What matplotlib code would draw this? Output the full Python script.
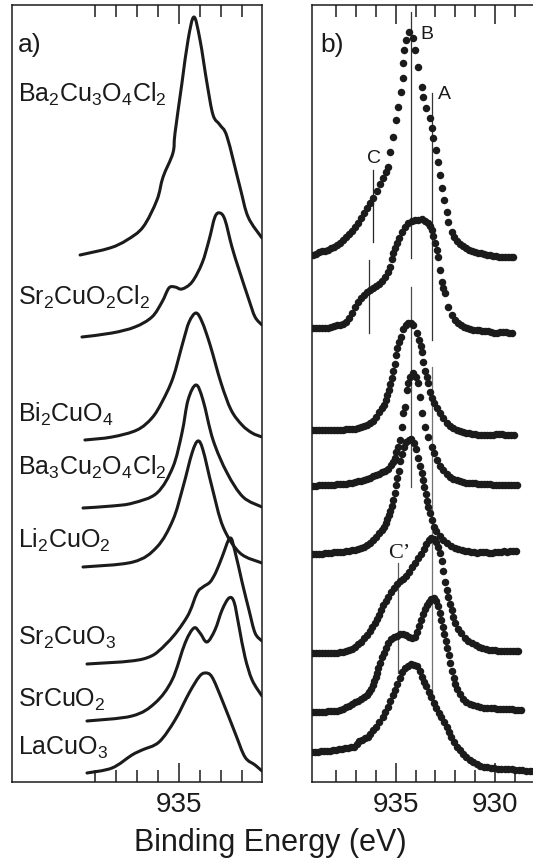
import numpy as np
import matplotlib
matplotlib.use("Agg")
import matplotlib.pyplot as plt
from matplotlib.path import Path
from matplotlib.patches import PathPatch

plt.rcParams['font.family'] = ['Liberation Sans', 'DejaVu Sans']
plt.rcParams['mathtext.fontset'] = 'custom'
plt.rcParams['mathtext.rm'] = 'Liberation Sans'
plt.rcParams['mathtext.default'] = 'rm'

# sample names, top to bottom
compounds = ["Ba$_2$Cu$_3$O$_4$Cl$_2$", "Sr$_2$CuO$_2$Cl$_2$", "Bi$_2$CuO$_4$",
             "Ba$_3$Cu$_2$O$_4$Cl$_2$", "Li$_2$CuO$_2$", "Sr$_2$CuO$_3$",
             "SrCuO$_2$", "LaCuO$_3$"]

# a) calculated spectra: (binding energy eV, intensity) + vertical offsets
offsets_a = [527, 445, 342, 274, 215, 118, 61, 9]
calc_1 = [(939.71, 0), (938.29, 7), (937.48, 15), (936.71, 28), (936.05, 55), (935.76, 78),
          (935.29, 102), (935.19, 122), (934.86, 172), (934.57, 215), (934.29, 238),
          (934.00, 215), (933.67, 172), (933.38, 140), (933.05, 130), (932.71, 118),
          (932.10, 68), (931.71, 38), (931.05, 17)]
calc_2 = [(939.62, 0), (938.19, 4), (937.10, 10), (936.29, 20), (935.81, 35), (935.48, 49),
          (935.19, 50), (934.86, 48), (934.38, 55), (933.90, 74), (933.57, 97), (933.29, 120),
          (933.05, 124), (932.81, 117), (932.48, 90), (932.14, 67), (931.67, 37),
          (931.38, 20), (931.05, 12)]
calc_3 = [(939.48, 0), (938.19, 3), (937.00, 10), (936.29, 22), (935.81, 38), (935.29, 62),
          (934.81, 98), (934.52, 118), (934.19, 127), (933.90, 118), (933.52, 95),
          (933.00, 57), (932.52, 30), (932.00, 15), (931.52, 7), (931.05, 3)]
calc_4 = [(939.57, 0), (938.19, 2), (937.19, 5), (936.05, 15), (935.29, 41), (934.86, 75),
          (934.57, 108), (934.19, 123), (933.86, 108), (933.38, 68), (932.71, 35),
          (931.95, 11), (931.05, 1)]
calc_5 = [(939.57, 0), (937.19, 5), (936.05, 20), (935.29, 47), (934.81, 80), (934.38, 114),
          (934.10, 126), (933.86, 117), (933.43, 80), (932.90, 40), (932.10, 14), (931.05, 4)]
calc_6 = [(939.38, 0), (936.71, 5), (935.57, 21), (934.62, 47), (934.14, 71), (933.86, 77),
          (933.52, 82), (933.24, 92), (932.95, 107), (932.57, 126), (932.33, 112),
          (932.00, 82), (931.67, 54), (931.38, 31), (931.05, 23)]
calc_7 = [(939.38, 0), (937.24, 5), (936.14, 18), (935.33, 41), (934.71, 78), (934.29, 93),
          (934.00, 88), (933.67, 79), (933.29, 91), (932.95, 111), (932.62, 123),
          (932.38, 119), (932.14, 94), (931.86, 64), (931.52, 41), (931.05, 25)]
calc_8 = [(939.38, 0), (938.19, 5), (937.24, 18), (936.76, 23), (935.95, 31), (935.19, 53),
          (934.52, 80), (934.05, 96), (933.76, 100), (933.43, 96), (932.95, 73),
          (932.33, 40), (931.86, 16), (931.38, 8), (931.05, 2)]

# b) measured spectra
offsets_b = [527, 454, 352, 297, 229, 129, 70, 30]
meas_1 = [(939.15, 0), (939.00, 1), (938.85, 3), (938.70, 4), (938.55, 4.5), (938.40, 5.5),
          (938.25, 7), (938.10, 8.5), (937.95, 10), (937.80, 12.5), (937.65, 15.5),
          (937.50, 18.5), (937.35, 21), (937.20, 24.5), (937.05, 28), (936.90, 32),
          (936.75, 37), (936.60, 42), (936.45, 47), (936.30, 52), (936.15, 57.5),
          (935.96, 64.5), (935.79, 71), (935.62, 77), (935.49, 83), (935.37, 88),
          (935.29, 103), (935.12, 118), (934.98, 135), (934.87, 148), (934.73, 163),
          (934.65, 177), (934.62, 192), (934.57, 205), (934.48, 215), (934.32, 223),
          (934.14, 217), (934.03, 205), (933.86, 188), (933.69, 168), (933.61, 158),
          (933.48, 147), (933.27, 137), (933.16, 127), (933.11, 117), (932.99, 105),
          (932.86, 93), (932.77, 80), (932.68, 67), (932.57, 55), (932.43, 43), (932.35, 33),
          (932.18, 23), (932.05, 18), (931.90, 14.5), (931.75, 11.5), (931.60, 9),
          (931.45, 7), (931.30, 5.5), (931.15, 4.5), (931.00, 3.5), (930.85, 2.5),
          (930.70, 1.7), (930.55, 1), (930.40, 0.5), (930.25, 0), (930.10, -0.5),
          (929.95, -1), (929.80, -1.5), (929.65, -1.5), (929.50, -2), (929.35, -2),
          (929.20, -2), (929.08, -2)]
meas_2 = [(939.16, 0), (939.01, 0), (938.86, 0), (938.71, 0), (938.56, 0), (938.41, 0.5),
          (938.26, 1), (938.11, 2), (937.96, 3), (937.80, 3.5), (937.65, 4.5), (937.50, 6),
          (937.35, 10), (937.20, 15.5), (937.05, 21), (936.90, 26), (936.75, 30.5),
          (936.60, 33.5), (936.45, 36), (936.29, 38), (936.14, 40), (935.99, 42),
          (935.84, 44), (935.69, 47), (935.54, 51), (935.41, 56), (935.29, 61), (935.19, 69),
          (935.12, 75), (935.04, 80), (934.95, 85), (934.83, 90.5), (934.70, 96),
          (934.53, 101.5), (934.37, 105), (934.19, 107), (934.03, 108), (933.86, 108.5),
          (933.69, 109), (933.53, 107.5), (933.36, 105), (933.27, 102), (933.19, 98),
          (933.11, 92), (933.02, 85), (932.94, 78), (932.86, 71), (932.77, 58), (932.68, 46),
          (932.60, 40.5), (932.52, 35), (932.35, 21), (932.18, 13), (932.01, 8), (931.85, 5),
          (931.69, 3), (931.54, 1), (931.39, 0), (931.24, -1), (931.09, -1.5), (930.93, -1.5),
          (930.78, -2), (930.63, -2.5), (930.48, -3), (930.33, -3), (930.18, -4),
          (930.03, -4.5), (929.88, -4.5), (929.73, -4), (929.58, -4), (929.43, -4),
          (929.27, -5), (929.16, -5)]
meas_3 = [(939.16, 0), (939.01, 0), (938.86, 0), (938.71, 0), (938.56, 0), (938.41, 0),
          (938.26, 0), (938.11, 0), (937.96, 0), (937.80, 0.3), (937.65, 0.5), (937.50, 0.7),
          (937.35, 1), (937.20, 1), (937.05, 1.5), (936.90, 2), (936.75, 3), (936.60, 4),
          (936.45, 5.5), (936.29, 7), (936.14, 9.5), (935.99, 13.5), (935.84, 18),
          (935.71, 22), (935.61, 25.5), (935.51, 30), (935.44, 35), (935.36, 40),
          (935.29, 46), (935.21, 52), (935.14, 59), (935.06, 66), (934.98, 75), (934.91, 82),
          (934.83, 88), (934.73, 93), (934.62, 101), (934.48, 105), (934.36, 107),
          (934.23, 107.5), (934.11, 105), (933.95, 97), (933.85, 90), (933.75, 84),
          (933.68, 78), (933.61, 68), (933.53, 59), (933.44, 53), (933.36, 47), (933.27, 38),
          (933.17, 32), (933.05, 27), (932.92, 22.5), (932.77, 17), (932.62, 12),
          (932.44, 7), (932.27, 4), (932.09, 2), (931.91, 0), (931.76, -1), (931.61, -2),
          (931.46, -2.5), (931.31, -3), (931.16, -3.5), (931.01, -4), (930.86, -4.5),
          (930.71, -5), (930.56, -5), (930.41, -5), (930.25, -5), (930.10, -4.5),
          (929.95, -4), (929.80, -4), (929.65, -4), (929.50, -4.5), (929.35, -5),
          (929.20, -5), (929.05, -5)]
meas_4 = [(939.16, -0.5), (939.01, -0.5), (938.86, -0.3), (938.71, 0), (938.56, 0),
          (938.41, 0), (938.26, 0.5), (938.11, 0.5), (937.96, 0.7), (937.80, 1), (937.65, 1.2),
          (937.50, 1.5), (937.35, 2), (937.20, 2.5), (937.05, 3), (936.90, 3.7), (936.75, 4.5),
          (936.60, 5), (936.45, 6), (936.29, 7.5), (936.14, 9), (935.99, 10.5), (935.84, 11.5),
          (935.69, 13), (935.54, 14.5), (935.39, 16.5), (935.26, 20), (935.16, 23.5),
          (935.06, 27), (934.96, 33), (934.87, 38), (934.78, 45), (934.70, 58), (934.62, 72),
          (934.53, 78), (934.45, 95), (934.37, 102), (934.26, 108), (934.11, 112),
          (934.00, 108), (933.86, 102), (933.78, 88), (933.69, 72), (933.53, 58), (933.36, 48),
          (933.19, 38), (933.07, 32), (932.94, 25), (932.77, 19.5), (932.60, 15),
          (932.44, 11.5), (932.27, 8.5), (932.09, 6.5), (931.93, 5), (931.76, 4), (931.61, 3),
          (931.46, 2.5), (931.31, 2), (931.16, 2), (931.01, 1.7), (930.86, 1.5), (930.71, 1),
          (930.56, 1), (930.41, 1), (930.25, 0.7), (930.10, 0.5), (929.95, 0.5), (929.80, 0.5),
          (929.65, 0), (929.50, 0), (929.35, 0), (929.20, 0), (929.05, 0), (928.91, 0)]
meas_5 = [(939.16, -1), (939.01, -1), (938.86, -0.7), (938.71, -0.5), (938.56, -0.2),
          (938.41, 0), (938.26, 0.3), (938.11, 0.6), (937.96, 0.8), (937.80, 1.1), (937.65, 1.3),
          (937.50, 1.7), (937.35, 2.1), (937.20, 2.7), (937.05, 3.3), (936.90, 4), (936.75, 4.8),
          (936.60, 5.8), (936.45, 7.8), (936.29, 10.3), (936.14, 13.3), (935.99, 16.3),
          (935.84, 19.8), (935.71, 23.3), (935.61, 26.3), (935.51, 30.3), (935.44, 34.3),
          (935.36, 38.3), (935.29, 42.3), (935.21, 47.3), (935.14, 53.3), (935.06, 60.3),
          (934.98, 68.3), (934.91, 75.3), (934.83, 82.3), (934.76, 92.3), (934.68, 99.3),
          (934.58, 106.3), (934.46, 111.3), (934.33, 113.3), (934.21, 113.8), (934.08, 110.3),
          (933.97, 104.3), (933.86, 95.3), (933.78, 87.3), (933.70, 80.3), (933.63, 73.3),
          (933.55, 66.3), (933.49, 59.3), (933.42, 52.3), (933.35, 45.8), (933.27, 40.3),
          (933.19, 33.3), (933.07, 26.3), (932.95, 21.8), (932.77, 17.3), (932.60, 13.3),
          (932.42, 9.8), (932.22, 6.8), (932.02, 4.8), (931.85, 3.8), (931.66, 2.8),
          (931.51, 2.3), (931.36, 1.8), (931.21, 1.3), (931.06, 0.8), (930.91, 0.3),
          (930.76, 0.8), (930.61, 1.3), (930.46, 0.8), (930.30, 0.3), (930.15, 0.3),
          (930.00, 0.8), (929.85, 1.3), (929.70, 1.3), (929.55, 1.6), (929.40, 1.3),
          (929.25, 1.8), (929.10, 1.8), (928.94, 1.6)]
meas_6 = [(939.16, 0), (939.01, 0), (938.86, 0), (938.71, -0.2), (938.56, -0.2), (938.41, 0),
          (938.26, 0), (938.11, 0.3), (937.96, 0.3), (937.80, 0.8), (937.65, 1.3), (937.50, 1.8),
          (937.35, 2.8), (937.20, 4.3), (937.05, 6.3), (936.90, 8.8), (936.75, 11.3),
          (936.60, 14.8), (936.45, 18.3), (936.29, 21.8), (936.17, 25.8), (936.04, 29.8),
          (935.94, 33.8), (935.84, 38.3), (935.74, 42.8), (935.64, 47.8), (935.51, 52.3),
          (935.39, 56.3), (935.24, 61.3), (935.09, 65.3), (934.93, 68.8), (934.78, 71.8),
          (934.63, 73.8), (934.48, 76.8), (934.33, 81.3), (934.18, 85.8), (934.03, 90.3),
          (933.87, 94.8), (933.72, 99.3), (933.57, 104.3), (933.45, 108.8), (933.32, 112.8),
          (933.20, 115.3), (933.07, 114.3), (932.95, 111.3), (932.85, 106.3), (932.76, 100.3),
          (932.68, 92.3), (932.60, 82.3), (932.52, 71.3), (932.43, 63.3), (932.35, 56.3),
          (932.27, 49.3), (932.18, 43.3), (932.10, 36.3), (932.02, 30.3), (931.87, 24.3),
          (931.69, 19.8), (931.51, 15.3), (931.34, 12.3), (931.16, 9.8), (930.98, 7.8),
          (930.81, 6.3), (930.63, 4.8), (930.46, 3.8), (930.30, 3.3), (930.15, 2.8),
          (930.00, 2.8), (929.85, 2.5), (929.70, 2.3), (929.55, 2.3), (929.40, 2),
          (929.25, 1.8), (929.10, 1.8), (928.94, 1.8), (928.83, 1.6)]
meas_7 = [(939.16, 0), (939.01, 0), (938.86, 0.2), (938.71, 0.2), (938.56, 0.4), (938.41, 0.7),
          (938.26, 0.7), (938.11, 1), (937.96, 1.4), (937.80, 2.2), (937.65, 3.2), (937.50, 4.7),
          (937.35, 6.2), (937.20, 7.7), (937.05, 9.7), (936.90, 11.2), (936.75, 13.2),
          (936.60, 15.2), (936.47, 17.2), (936.34, 19.7), (936.24, 23.2), (936.15, 26.7),
          (936.07, 30.7), (936.01, 34.7), (935.94, 39.2), (935.88, 43.7), (935.79, 49.2),
          (935.70, 54.7), (935.61, 59.2), (935.51, 63.7), (935.39, 68.7), (935.24, 72.7),
          (935.09, 74.7), (934.93, 76.2), (934.78, 77.7), (934.63, 78.2), (934.48, 77.2),
          (934.33, 75.2), (934.18, 74.2), (934.05, 74.7), (933.93, 79.7), (933.83, 85.7),
          (933.72, 91.7), (933.63, 97.7), (933.53, 102.7), (933.43, 106.7), (933.32, 110.2),
          (933.20, 113.2), (933.07, 114.2), (932.95, 110.7), (932.85, 105.7), (932.77, 98.7),
          (932.70, 91.7), (932.62, 84.7), (932.55, 77.7), (932.47, 70.7), (932.40, 63.7),
          (932.32, 56.7), (932.25, 48.7), (932.17, 40.7), (932.08, 33.7), (931.99, 27.7),
          (931.89, 22.7), (931.76, 17.7), (931.61, 13.2), (931.44, 10.2), (931.26, 8.2),
          (931.09, 6.7), (930.91, 5.7), (930.73, 4.9), (930.56, 4.4), (930.38, 4.2),
          (930.20, 3.9), (930.05, 3.7), (929.90, 3.4), (929.75, 3.2), (929.60, 3.2),
          (929.45, 2.9), (929.30, 2.7), (929.15, 2.7), (929.00, 2.5), (928.85, 2.4),
          (928.69, 2.4)]
meas_8 = [(939.21, 0), (939.06, 0.2), (938.91, 0.5), (938.76, 0.7), (938.61, 1), (938.46, 1.2),
          (938.31, 1.5), (938.16, 1.9), (938.01, 2.4), (937.85, 2.7), (937.70, 3.2),
          (937.55, 3.7), (937.40, 4.2), (937.25, 4.7), (937.10, 5.2), (936.97, 7.7),
          (936.87, 10.7), (936.72, 12.2), (936.57, 13.7), (936.42, 15.2), (936.27, 17.7),
          (936.12, 21.7), (935.97, 25.2), (935.82, 29.7), (935.66, 34.7), (935.54, 39.7),
          (935.41, 45.2), (935.29, 51.2), (935.16, 56.7), (935.04, 62.2), (934.91, 67.7),
          (934.78, 74.2), (934.66, 79.7), (934.53, 83.7), (934.38, 86.2), (934.23, 87.7),
          (934.08, 87.2), (933.93, 85.7), (933.80, 80.7), (933.69, 74.7), (933.58, 70.2),
          (933.45, 65.7), (933.32, 60.2), (933.20, 54.7), (933.07, 48.7), (932.95, 44.2),
          (932.82, 39.2), (932.70, 34.7), (932.57, 30.2), (932.44, 25.2), (932.32, 20.2),
          (932.19, 14.7), (932.07, 9.7), (931.91, 5.2), (931.76, 1.7), (931.61, -1.8),
          (931.44, -5.3), (931.26, -8.3), (931.09, -10.3), (930.91, -12.3), (930.73, -13.8),
          (930.56, -14.6), (930.38, -15.1), (930.20, -15.5), (930.03, -16), (929.85, -16.5),
          (929.68, -16.8), (929.50, -16.8), (929.32, -17), (929.15, -17.3), (928.97, -17.8),
          (928.79, -18.1), (928.62, -18.3), (928.44, -18.6), (928.26, -18.9), (928.09, -19.3)]

# marker lines in b): (energy, y from, y to, grey level)
guide_lines = [(936.13, 540, 612, '0.15'), (936.33, 449, 522, '0.2'),
               (934.25, 524, 770, '0.2'), (934.25, 295, 495, '0.3'),
               (933.19, 442, 689, '0.2'), (933.19, 77, 415, '0.45'),
               (934.87, 109, 219, '0.35')]

calc = [calc_1, calc_2, calc_3, calc_4, calc_5, calc_6, calc_7, calc_8]
meas = [meas_1, meas_2, meas_3, meas_4, meas_5, meas_6, meas_7, meas_8]
label_base = [680, 477, 360, 307, 234, 137, 75, 27]

ink = '#1b1b1b'


def smooth_path(x, y):
    pts = np.column_stack([x, y])
    n = len(pts)
    verts = [pts[0]]
    codes = [Path.MOVETO]
    for i in range(n - 1):
        p0 = pts[max(i - 1, 0)]
        p1 = pts[i]
        p2 = pts[i + 1]
        p3 = pts[min(i + 2, n - 1)]
        verts += [p1 + (p2 - p0) / 6.0, p2 - (p3 - p1) / 6.0, p2]
        codes += [Path.CURVE4] * 3
    return Path(verts, codes)


def style_axis(ax, minor):
    ax.set_ylim(0, 777)
    ax.set_yticks([])
    ax.set_xticks(minor, minor=True)
    ax.tick_params(which='both', direction='in', top=True, bottom=True,
                   left=False, right=False, width=1.1, colors=ink)
    ax.tick_params(which='major', length=14, labelsize=20, pad=7)
    ax.tick_params(which='minor', length=8.5)
    for s in ax.spines.values():
        s.set_linewidth(1.1)
        s.set_color(ink)


fig = plt.figure(figsize=(5.33, 8.63), dpi=100)
ax_a = fig.add_axes([12 / 533, 81 / 863, 250 / 533, 777 / 863])
ax_b = fig.add_axes([312.3 / 533, 81 / 863, 222 / 533, 777 / 863])

# panel a
for spec, off in zip(calc, offsets_a):
    e, i = np.array(spec).T
    ax_a.add_patch(PathPatch(smooth_path(e, i + off), fc='none', ec=ink, lw=2.2,
                             capstyle='round', joinstyle='round'))
for name, yb in zip(compounds, label_base):
    ax_a.text(942.67, yb, name, fontsize=18, ha='left', va='baseline', color=ink)
ax_a.text(942.67, 730, "a)", fontsize=19, ha='left', va='baseline', color=ink)
ax_a.set_xlim(942.95, 931.05)
ax_a.set_xticks([935])
style_axis(ax_a, [932, 933, 934, 936, 937, 938, 939])

# panel b
for e, y0, y1, c in guide_lines:
    ax_b.plot([e, e], [y0, y1], color=c, lw=0.9, zorder=1)
for spec, off in zip(meas, offsets_b):
    e, i = np.array(spec).T
    ax_b.plot(e, i + off, 'o', ms=5.4, mew=0, color=ink, zorder=2)
ax_b.text(938.81, 730, "b)", fontsize=19, ha='left', va='baseline', color=ink)
ax_b.text(933.78, 743, "B", fontsize=14, ha='left', va='baseline', color=ink)
ax_b.text(932.86, 683, "A", fontsize=14, ha='left', va='baseline', color=ink)
ax_b.text(936.46, 619, "C", fontsize=14, ha='left', va='baseline', color=ink)
ax_b.text(935.40, 224, "C\u2019", fontsize=16, ha='left', va='baseline', color=ink,
          family=['Liberation Serif', 'DejaVu Serif'])
ax_b.set_xlim(939.2, 928.02)
ax_b.set_xticks([935, 930])
style_axis(ax_b, [938, 937, 936, 934, 933, 932, 931, 929])
ax_b.spines['right'].set_visible(False)

fig.text(0.507, 20 / 863, "Binding Energy (eV)", fontsize=22, ha='center', va='center',
         color=ink)

fig.savefig("out.png", dpi=100)
